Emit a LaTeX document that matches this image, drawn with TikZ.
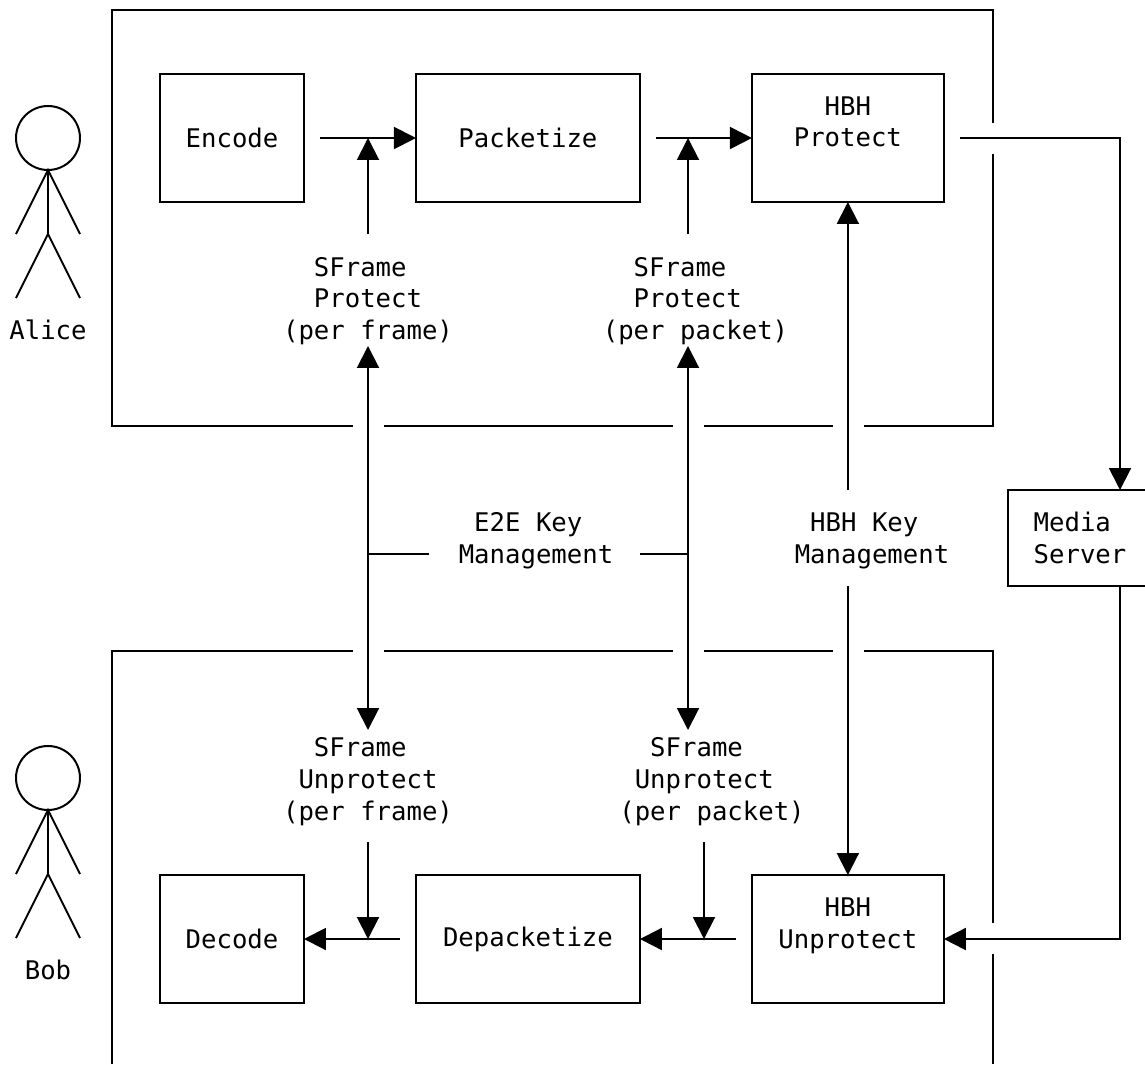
\documentclass[tikz,border=0pt]{standalone}
\usepackage{fontspec}
\setmainfont{DejaVu Sans Mono}
\usetikzlibrary{positioning,arrows.meta}
\newcommand{\lblfont}{\fontsize{14.6pt}{18.21pt}\selectfont}
\newcommand{\one}{\hphantom{x}}
\newcommand{\two}{\hphantom{xx}}
\tikzset{
  line/.style={line width=0.04cm},
  flow/.style={line, -{Triangle[length=0.44cm,width=0.44cm]}},
  flowboth/.style={line, {Triangle[length=0.44cm,width=0.44cm]}-{Triangle[length=0.44cm,width=0.44cm]}},
  away/.style={shorten <=0.32cm},
  block/.style={draw, line, inner sep=0pt, outer sep=0pt, font=\lblfont, align=center, minimum height=2.56cm},
  raised/.style={text height=0.36cm, text depth=0pt},
  lbl/.style={inner sep=0pt, outer sep=0pt, font=\lblfont, align=left},
  three/.style={lbl, text height=1.8cm, text depth=0.12cm},
  twol/.style={lbl, text height=1.14cm, text depth=0.14cm},
  head/.style={draw, line, circle, inner sep=0pt, outer sep=0pt, minimum size=1.28cm}
}
\begin{document}
\begin{tikzpicture}[x=0.02cm, y=-0.02cm]
\useasboundingbox (0,0) rectangle (1145,1064);

% Alice side
\node[block, minimum width=2.88cm] (encode) at (232,138) {Encode};
\node[block, minimum width=4.48cm, right=2.24cm of encode] (packetize) {Packetize};
\node[block, raised, minimum width=3.84cm, right=2.24cm of packetize] (hbhp) {HBH\\Protect};

% Bob side
\node[block, minimum width=2.88cm] (decode) at (232,939) {Decode};
\node[block, minimum width=4.48cm, right=2.24cm of decode] (depacketize) {Depacketize};
\node[block, raised, minimum width=3.84cm, right=2.24cm of depacketize] (hbhu) {HBH\\Unprotect};

\node[block, minimum width=2.88cm, minimum height=1.92cm] (media) at (1080,538) {Media\one\\Server};

% labels
\node[three] (sfpf) at (368,298) {\two SFrame\\\two Protect\\(per frame)};
\node[three] (sfpp) at (695.5,298) {\two SFrame\\\two Protect\\(per packet)};
\node[three] (sfuf) at (368,778) {\two SFrame\\\one Unprotect\\(per frame)};
\node[three] (sfup) at (712,778) {\two SFrame\\\one Unprotect\\(per packet)};
\node[twol] (e2e) at (536,538) {\one E2E Key\\Management};
\node[twol] (hbhk) at (872,538) {\one HBH Key\\Management};

% junctions
\coordinate (ja) at (sfpf.north |- encode);
\coordinate (jb) at (688,138);
\coordinate (jc) at (sfuf.south |- decode);
\coordinate (jd) at (704,939);
\coordinate (je) at (368,554);
\coordinate (jf) at (688,554);
\coordinate (mt) at (1120,490);
\coordinate (mb) at (1120,586);

% frames
\draw[line] (353,426) -- (112,426) -- (112,10) -- (993,10) -- (993,123);
\draw[line] (993,154) -- (993,426) -- (864,426);
\draw[line] (833,426) -- (704,426);
\draw[line] (673,426) -- (384,426);
\draw[line] (112,1064) -- (112,651) -- (353,651);
\draw[line] (384,651) -- (673,651);
\draw[line] (704,651) -- (833,651);
\draw[line] (864,651) -- (993,651) -- (993,923);
\draw[line] (993,954) -- (993,1064);

% people
\foreach \who/\name/\ypos in {alice/Alice/138, bob/Bob/778} {
  \node[head] (\who) at (48,\ypos) {};
  \coordinate (\who hip) at (48,\ypos+96);
  \draw[line] (\who.south) -- (\who hip);
  \draw[line] (16,\ypos+96) -- (\who.south) -- (80,\ypos+96);
  \draw[line] (16,\ypos+160) -- (\who hip) -- (80,\ypos+160);
  \node[lbl] (\who name) at (48,\ypos+192) {\name};
}

% flows
\draw[flow, away] (encode) -- (packetize);
\draw[flow, away] (packetize) -- (hbhp);
\draw[flow, away] (hbhp.east) -| (mt);
\draw[flow] (mb) |- (hbhu.east);
\draw[flow, away] (hbhu) -- (depacketize);
\draw[flow, away] (depacketize) -- (decode);

\draw[flow, away] (sfpf.north) -- (ja);
\draw[flow, away] (sfpp.north -| jb) -- (jb);
\draw[flow, away] (sfuf.south) -- (jc);
\draw[flow, away] (sfup.south -| jd) -- (jd);

\draw[flowboth] (sfpf.south) -- (sfuf.north);
\draw[flowboth] (sfpp.south -| jb) -- (sfup.north -| jb);
\draw[flow, away] (hbhk.north -| hbhp.south) -- (hbhp);
\draw[flow, away] (hbhk.south -| hbhu.north) -- (hbhu);

\draw[line, shorten <=0.6cm] (e2e.west |- je) -- (je);
\draw[line, shorten <=0.54cm] (e2e.east |- jf) -- (jf);
\end{tikzpicture}
\end{document}
